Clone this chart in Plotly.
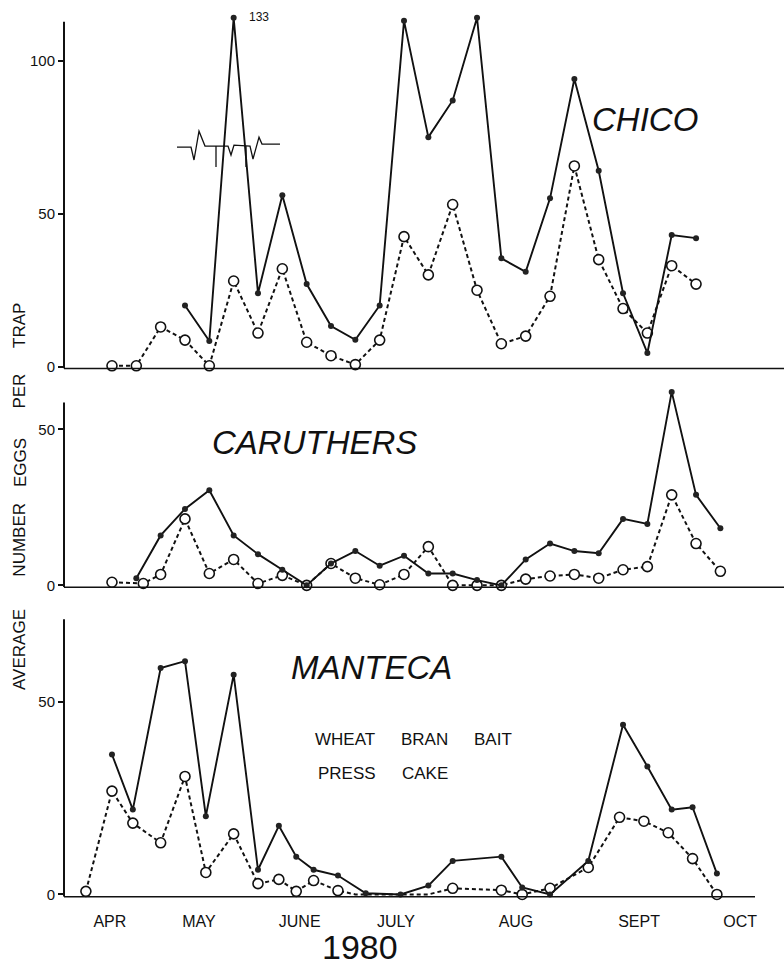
import plotly.graph_objects as go

# ---------------- data (days after first sampling, ~April 1, 1980) ----------------
months = ["APR", "MAY", "JUNE", "JULY", "AUG", "SEPT", "OCT"]
month_pos = [-0.6, 25, 54, 81.7, 116.2, 151.6, 180.7]

chico_wheat_day = [21, 28, 35, 42, 49, 56, 63, 70, 77, 84, 91, 98, 105, 112, 119, 126, 133, 140, 147, 154, 161, 168]
chico_wheat = [20, 8.4, 133, 24, 56, 27, 13.3, 8.8, 20, 113, 75, 87, 114, 35.4, 31, 55, 94, 64, 24, 4.5, 43, 42]
chico_cake_day = [0, 7, 14, 21, 28, 35, 42, 49, 56, 63, 70, 77, 84, 91, 98, 105, 112, 119, 126, 133, 140, 147, 154, 161, 168]
chico_cake = [0.3, 0.3, 13, 8.7, 0.3, 28, 11, 32, 8, 3.6, 0.7, 8.7, 42.5, 30, 53, 25, 7.5, 10, 23, 65.6, 35, 19, 11, 33, 27]

caruthers_wheat_day = [7, 14, 21, 28, 35, 42, 49, 56, 63, 70, 77, 84, 91, 98, 105, 112, 119, 126, 133, 140, 147, 154, 161, 168, 175]
caruthers_wheat = [2.3, 16, 24.5, 30.5, 16, 10, 5, 0, 7, 11, 6.3, 9.5, 3.8, 3.8, 1.7, 0, 8.3, 13.4, 11, 10.3, 21.3, 19.7, 62, 29, 18.3]
caruthers_cake_day = [0, 9, 14, 21, 28, 35, 42, 49, 56, 63, 70, 77, 84, 91, 98, 105, 112, 119, 126, 133, 140, 147, 154, 161, 168, 175]
caruthers_cake = [1, 0.6, 3.5, 21.3, 3.8, 8.3, 0.6, 3.2, 0, 7, 2.3, 0.2, 3.5, 12.4, 0, 0, 0, 2, 3, 3.5, 2.3, 5, 6, 29, 13.4, 4.5]

manteca_wheat_day = [0, 6, 14, 21, 27, 35, 42, 48, 53, 58, 65, 73, 83, 91, 98, 112, 118, 126, 137, 147, 154, 161, 167, 174]
manteca_wheat = [36.3, 22, 58.7, 60.5, 20.3, 57, 6.4, 17.8, 9.8, 6.4, 4.9, 0.3, 0, 2.3, 8.7, 9.8, 1.8, 0, 8.7, 44, 33.2, 22, 22.6, 5.4]
manteca_cake_day = [-7.5, 0, 6, 14, 21, 27, 35, 42, 48, 53, 58, 65, 70, 91, 98, 112, 118, 126, 137, 146, 153, 160, 167, 174]
manteca_cake = [0.8, 26.8, 18.5, 13.4, 30.6, 5.7, 15.7, 2.8, 3.9, 0.8, 3.6, 1, 0, 0, 1.6, 1.1, 0, 1.6, 7, 20, 19, 16, 9.3, 0]
manteca_cake_marked = [1, 1, 1, 1, 1, 1, 1, 1, 1, 1, 1, 1, 0, 0, 1, 1, 1, 1, 1, 1, 1, 1, 1, 1]

CHICO_BREAK_LABEL = "133"
CHICO_BREAK_DRAWN = 114   # height at which the off-scale value is drawn (axis break)

# ---------------- layout helpers ----------------
W, H = 784, 972
FONT = "Liberation Sans, Arial, sans-serif"
X_LEFT_PX = 64
X_RANGE = [-13.8, 193.3]


def px(x):
    return x / W


def py(y):
    return 1 - y / H


# panel geometry: zero line pixel, pixels per unit, top of plotting area, top of drawn axis
panels = {
    "chico": dict(ax="3", zero=369, ppu=3.08, top=12, axis_top=112.7, ticks=[0, 50, 100]),
    "caruthers": dict(ax="2", zero=589, ppu=3.14, top=385, axis_top=58.6, ticks=[0, 50]),
    "manteca": dict(ax="", zero=900, ppu=3.88, top=623, axis_top=71.4, ticks=[0, 50]),
}
Y_PAD = 0.6

fig = go.Figure()

solid_line = dict(color="#111111", width=1.9)
solid_marker = dict(color="#222222", size=6, line=dict(width=0), opacity=1)
dash_line = dict(color="#111111", width=2, dash="4px,3px")


def open_marker(marked=None):
    sizes = 10 if marked is None else [10 if m else 0 for m in marked]
    return dict(symbol="circle", size=sizes, color="white", opacity=1,
                line=dict(color="#111111", width=1.6))


def add_pair(key, wd, wv, cd, cv, marked=None):
    ax = panels[key]["ax"]
    fig.add_trace(go.Scatter(x=cd, y=cv, mode="lines+markers", line=dash_line,
                             marker=open_marker(marked), cliponaxis=False,
                             xaxis="x" + ax, yaxis="y" + ax, showlegend=False,
                             name="Press cake"))
    fig.add_trace(go.Scatter(x=wd, y=wv, mode="lines+markers", line=solid_line,
                             marker=solid_marker, cliponaxis=False,
                             xaxis="x" + ax, yaxis="y" + ax, showlegend=False,
                             name="Wheat bran bait"))


chico_drawn = [v if v <= 115 else CHICO_BREAK_DRAWN for v in chico_wheat]
add_pair("chico", chico_wheat_day, chico_drawn, chico_cake_day, chico_cake)
add_pair("caruthers", caruthers_wheat_day, caruthers_wheat, caruthers_cake_day, caruthers_cake)
add_pair("manteca", manteca_wheat_day, manteca_wheat, manteca_cake_day, manteca_cake, manteca_cake_marked)

layout = dict(
    width=W, height=H, margin=dict(l=0, r=0, t=0, b=0),
    paper_bgcolor="white", plot_bgcolor="white",
    font=dict(family=FONT, color="#111111"),
    showlegend=False,
)

shapes = []
for key, p in panels.items():
    ax = p["ax"]
    dom_bottom = p["zero"] + Y_PAD * p["ppu"]
    top_val = (p["zero"] - p["top"]) / p["ppu"]
    xname = "xaxis" + ax
    yname = "yaxis" + ax
    is_bottom = key == "manteca"
    layout[xname] = dict(
        domain=[px(X_LEFT_PX), 1], range=X_RANGE, anchor="y" + ax,
        showgrid=False, zeroline=False, showline=False, ticks="",
        tickvals=month_pos if is_bottom else [], ticktext=months if is_bottom else [],
        showticklabels=is_bottom, tickfont=dict(size=16, family=FONT, color="#111111"),
        ticklabelstandoff=13,
    )
    layout[yname] = dict(
        domain=[py(dom_bottom), py(p["top"])], range=[-Y_PAD, top_val], anchor="x" + ax,
        showgrid=False, zeroline=False, showline=False,
        tickvals=p["ticks"], ticks="outside", ticklen=5, tickwidth=1.5, tickcolor="#111111",
        tickfont=dict(size=15, family=FONT, color="#111111"),
    )
    # y axis line
    shapes.append(dict(type="line", xref="x" + ax + " domain", yref="y" + ax,
                       x0=0, x1=0, y0=-Y_PAD, y1=p["axis_top"],
                       line=dict(color="#111111", width=2)))
    # x axis line
    x_end = 1 if not is_bottom else (755 - X_LEFT_PX) / (W - X_LEFT_PX)
    shapes.append(dict(type="line", xref="x" + ax + " domain", yref="y" + ax + " domain",
                       x0=0, x1=x_end, y0=0, y1=0,
                       line=dict(color="#111111", width=1.6)))

# axis-break squiggle drawn across the off-scale Chico peak
squiggle = [(177, 148), (191, 148), (194, 161), (199, 132), (205, 147), (228, 147),
            (231, 156), (234, 146), (250, 147), (253, 160), (259, 138), (262, 145), (280, 145)]
path = "M " + " L ".join(f"{px(a):.5f},{py(b):.5f}" for a, b in squiggle)
shapes.append(dict(type="path", xref="paper", yref="paper", path=path,
                   line=dict(color="#111111", width=1.3)))
for tx in (216, 246):
    shapes.append(dict(type="line", xref="paper", yref="paper", x0=px(tx), x1=px(tx),
                       y0=py(147), y1=py(168), line=dict(color="#111111", width=1.3)))
layout["shapes"] = shapes

ann = []


def text(t, x, y, size, angle=0, italic=False):
    ann.append(dict(text=f"<i>{t}</i>" if italic else t, x=px(x), y=py(y), xref="paper", yref="paper",
                    showarrow=False, xanchor="center", yanchor="middle", textangle=angle,
                    font=dict(size=size, family=FONT, color="#111111")))


text("CHICO", 645, 120, 33, italic=True)
text("CARUTHERS", 314, 445, 33, italic=True)
text("MANTECA", 371, 672, 33, italic=True)
text(CHICO_BREAK_LABEL, 259, 17, 12)
for w, x in (("WHEAT", 345), ("BRAN", 424), ("BAIT", 493)):
    text(w, x, 744, 17)
for w, x in (("PRESS", 347), ("CAKE", 425)):
    text(w, x, 778, 17)
for w, y in (("TRAP", 328), ("PER", 394), ("EGGS", 466), ("NUMBER", 543), ("AVERAGE", 654)):
    text(w, 20, y, 17, angle=-90)
text("1980", 360, 953, 34)
layout["annotations"] = ann

fig.update_layout(**layout)
fig.write_html("out.html")
